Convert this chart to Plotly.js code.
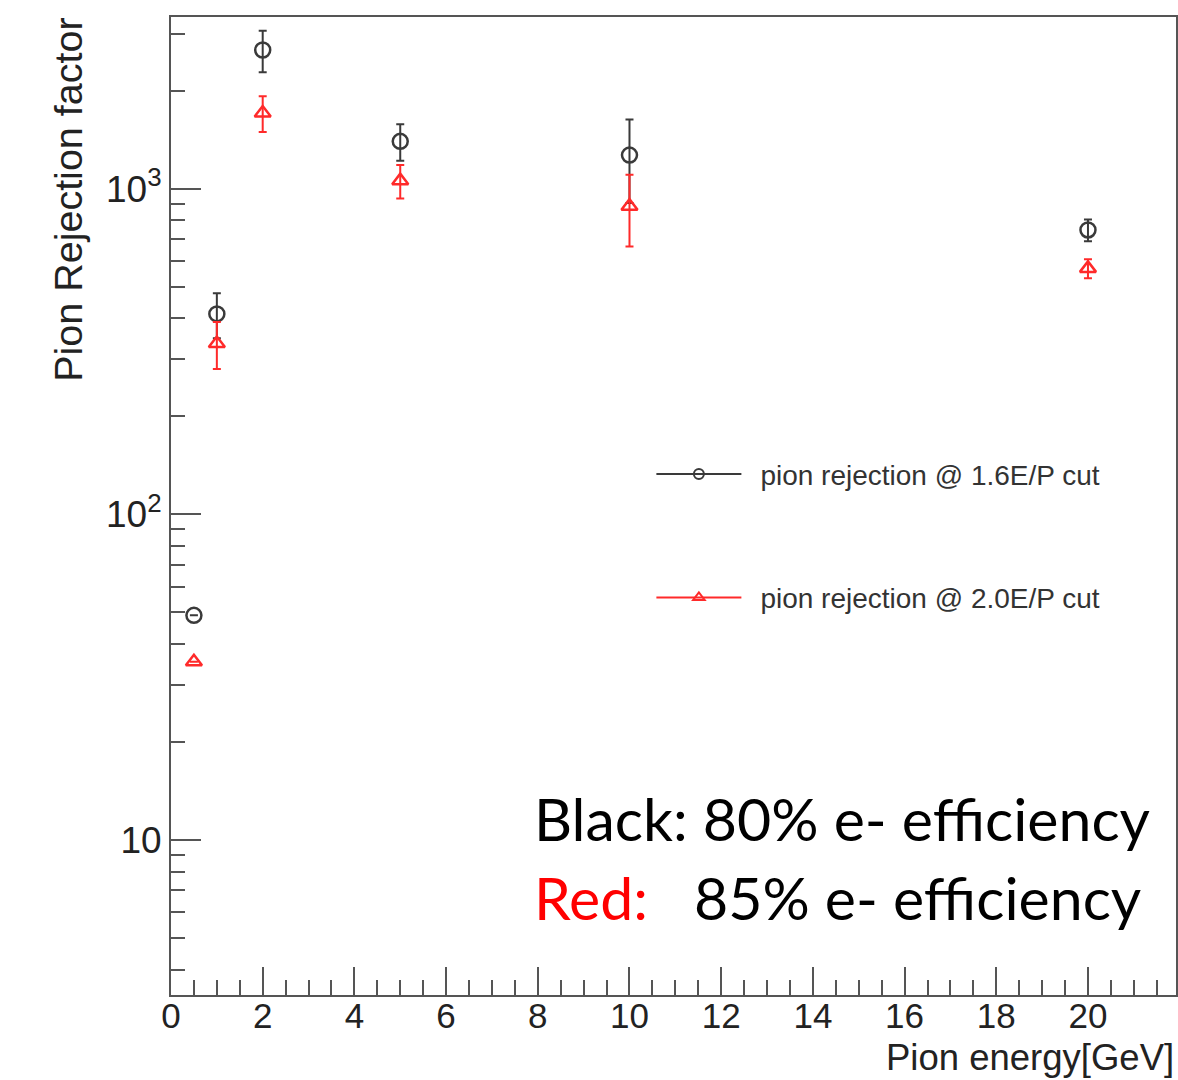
<!DOCTYPE html>
<html>
<head>
<meta charset="utf-8">
<script src="https://cdn.plot.ly/plotly-3.0.1.min.js"></script>
<style>html,body{margin:0;padding:0;background:#fff;}#chart{width:1178px;height:1080px;}</style>
</head>
<body>
<div id="chart"></div>
<script>
// Data
const energy = [0.5, 1, 2, 5, 10, 20];
const rej16 = [49, 413, 2670, 1400, 1270, 748];
const rej16Err = [0, 65, 390, 180, 365, 57];
const rej20 = [35.3, 335, 1710, 1060, 885, 570];
const rej20Err = [0, 55, 215, 125, 220, 38];
const seriesNames = ['pion rejection @ 1.6E/P cut', 'pion rejection @ 2.0E/P cut'];
const xTickVals = [0, 2, 4, 6, 8, 10, 12, 14, 16, 18, 20];
const yTickVals = [10, 100, 1000];
const yTickText = ['10', '10<sup>2</sup>', '10<sup>3</sup>'];
const yMinorVals = [4,5,6,7,8,9,20,30,40,50,60,70,80,90,200,300,400,500,600,700,800,900,2000,3000];

const blackCol = '#3a3a3a';
const redCol = '#ff2a2a';
const helv = '"Liberation Sans", Arial, Helvetica, sans-serif';

const traces = [
  {
    x: energy, y: rej16, type: 'scatter', mode: 'markers', showlegend: false,
    marker: {symbol: 'circle-open', size: 15, color: blackCol, line: {width: 2.5, color: blackCol}},
    error_y: {type: 'data', array: rej16Err, visible: true, color: blackCol, thickness: 2, width: 4}
  },
  {
    x: energy, y: rej20, type: 'scatter', mode: 'markers', showlegend: false,
    marker: {symbol: 'triangle-up-open', size: 14, color: redCol, line: {width: 2.5, color: redCol}},
    error_y: {type: 'data', array: rej20Err, visible: true, color: redCol, thickness: 2, width: 4}
  },
  {
    x: [null], y: [null], type: 'scatter', mode: 'lines+markers', name: '\u2002' + seriesNames[0], legendgroup: 'a',
    line: {color: blackCol, width: 2},
    marker: {symbol: 'circle-open', size: 10, color: blackCol, line: {width: 2, color: blackCol}}
  },
  {
    x: [null], y: [null], type: 'scatter', mode: 'lines+markers', name: '\u2002' + seriesNames[1], legendgroup: 'b',
    line: {color: redCol, width: 2},
    marker: {symbol: 'triangle-up-open', size: 10, color: redCol, line: {width: 2, color: redCol}}
  }
];

const layout = {
  width: 1178, height: 1080,
  margin: {l: 171, r: 2, t: 17, b: 85, pad: 0},
  paper_bgcolor: '#fff', plot_bgcolor: '#fff',
  showlegend: true,
  legend: {
    x: 0.478, y: 0.558, xanchor: 'left', yanchor: 'top',
    bgcolor: 'rgba(0,0,0,0)', borderwidth: 0,
    font: {family: helv, size: 28, color: '#333'},
    tracegroupgap: 84, itemwidth: 85
  },
  xaxis: {
    range: [0, 21.92], showgrid: false, zeroline: false,
    showline: true, linecolor: '#555', linewidth: 2, mirror: true,
    tickvals: xTickVals, ticks: 'inside', ticklen: 28, tickwidth: 2, tickcolor: '#555',
    minor: {dtick: 0.5, ticks: 'inside', ticklen: 15, tickwidth: 2, tickcolor: '#555', showgrid: false},
    tickfont: {family: helv, size: 35, color: '#222'}, ticklabelstandoff: -11
  },
  yaxis: {
    type: 'log', range: [0.524, 3.528], showgrid: false, zeroline: false,
    showline: true, linecolor: '#555', linewidth: 2, mirror: true,
    tickvals: yTickVals, ticktext: yTickText, ticks: 'inside', ticklen: 30, tickwidth: 2, tickcolor: '#555',
    minor: {tickvals: yMinorVals, ticks: 'inside', ticklen: 14, tickwidth: 2, tickcolor: '#555', showgrid: false},
    tickfont: {family: helv, size: 37, color: '#222'}
  },
  annotations: [
    {text: 'Pion Rejection factor', xref: 'paper', yref: 'paper', x: -0.1025, y: 0.813,
     xanchor: 'center', yanchor: 'middle', textangle: -90, showarrow: false,
     font: {family: helv, size: 39.5, color: '#222'}},
    {text: 'Pion energy[GeV]', xref: 'paper', yref: 'paper', x: 1.0, y: -0.064,
     xanchor: 'right', yanchor: 'middle', showarrow: false,
     font: {family: helv, size: 36.5, color: '#222'}},
    {text: 'Black: 80% e- efficiency', xref: 'paper', yref: 'paper', x: 0.3592, y: 0.18,
     xanchor: 'left', yanchor: 'middle', showarrow: false,
     font: {family: 'Lato, sans-serif', size: 59, color: '#000'}},
    {text: 'Red:', xref: 'paper', yref: 'paper', x: 0.3592, y: 0.1,
     xanchor: 'left', yanchor: 'middle', showarrow: false,
     font: {family: 'Lato, sans-serif', size: 59, color: '#ff0000'}},
    {text: '85% e- efficiency', xref: 'paper', yref: 'paper', x: 0.5184, y: 0.1,
     xanchor: 'left', yanchor: 'middle', showarrow: false,
     font: {family: 'Lato, sans-serif', size: 59, color: '#000'}}
  ]
};

Plotly.newPlot('chart', traces, layout, {displayModeBar: false, staticPlot: true});
</script>
</body>
</html>
